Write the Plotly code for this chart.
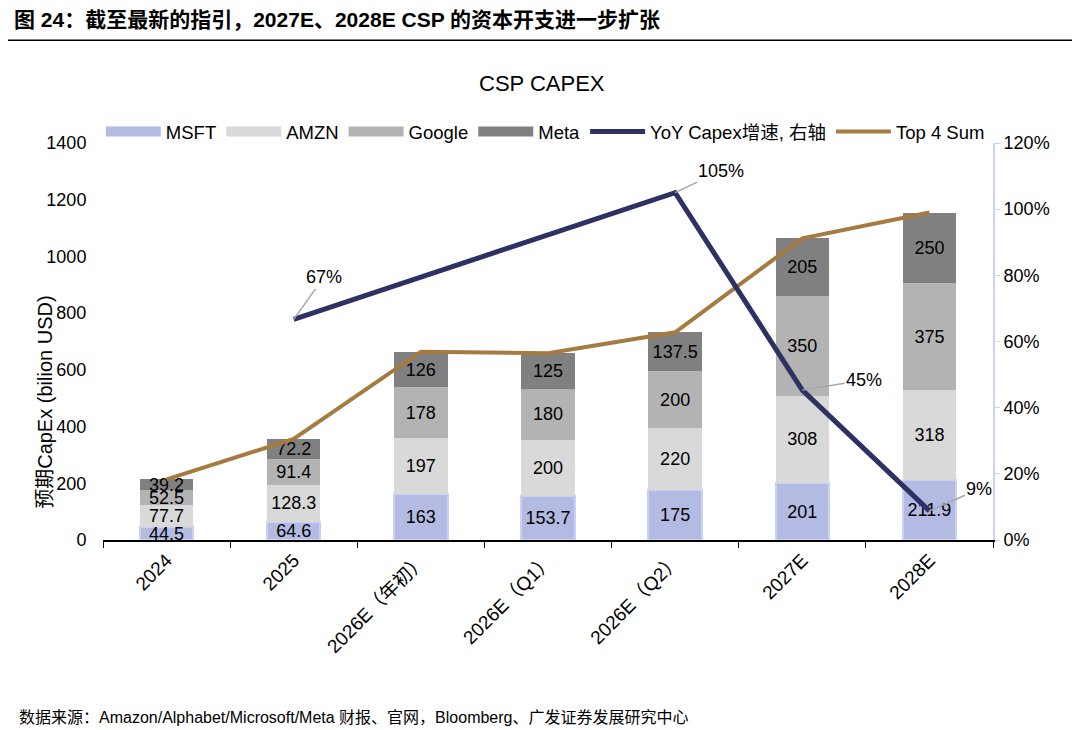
import numpy as np
import plotly.graph_objects as go

FONT = "Arial, Liberation Sans, Noto Sans CJK SC, sans-serif"

# Data.
periods = ["2024", "2025", "2026E（年初）", "2026E（Q1）", "2026E（Q2）", "2027E", "2028E"]
msft = [44.5, 64.6, 163, 153.7, 175, 201, 211.9]
amzn = [77.7, 128.3, 197, 200, 220, 308, 318]
google = [52.5, 91.4, 178, 180, 200, 350, 375]
meta = [39.2, 72.2, 126, 125, 137.5, 205, 250]
yoy = [None, 0.667, None, None, 1.05, 0.453, 0.088]
top4 = [float(v) for v in np.sum([msft, amzn, google, meta], axis=0)]

bar_series = [
    ("MSFT", msft, "#b4bbe3", "#cbd1f6", 2),
    ("AMZN", amzn, "#d9d9d9", "#d9d9d9", 0),
    ("Google", google, "#b3b3b3", "#b3b3b3", 0),
    ("Meta", meta, "#808080", "#808080", 0),
]

fig = go.Figure()
for name, vals, color, edge, lw in bar_series:
    fig.add_trace(go.Bar(
        x=periods, y=vals, name=name, legendgroup=name, showlegend=False,
        marker=dict(color=color, line=dict(color=edge, width=lw)),
        text=[f"{v:g}" for v in vals],
        textposition="inside", insidetextanchor="middle", textangle=0,
        textfont=dict(family=FONT, size=18, color="#000000"),
    ))
    # legend swatch drawn as a thick band like the original
    fig.add_trace(go.Scatter(
        x=[None], y=[None], name=name, legendgroup=name, mode="lines",
        line=dict(color=color, width=11),
    ))

fig.add_trace(go.Scatter(
    x=periods, y=yoy, name="YoY Capex增速, 右轴", yaxis="y2",
    mode="lines", connectgaps=True,
    line=dict(color="#2e3163", width=5),
))
fig.add_trace(go.Scatter(
    x=periods, y=top4, name="Top 4 Sum",
    mode="lines", line=dict(color="#a57b3f", width=4),
))

# YoY data labels with grey leader lines.
offsets = {1: (30, -42), 4: (46, -22), 5: (62, -10), 6: (50, -22)}
for i, (ax, ay) in offsets.items():
    fig.add_annotation(
        x=i, y=yoy[i], xref="x", yref="y2", text=f"{yoy[i]:.0%}",
        showarrow=True, arrowhead=0, arrowwidth=1.5, arrowcolor="#a6a6a6",
        ax=ax, ay=ay, font=dict(family=FONT, size=18, color="#000000"),
    )

fig.add_annotation(
    xref="paper", yref="paper", x=-0.102, y=1.3123, xanchor="left", yanchor="middle",
    text="<b>图 24：截至最新的指引，2027E、2028E CSP 的资本开支进一步扩张</b>",
    showarrow=False, font=dict(family=FONT, size=21, color="#000000"),
)
fig.add_annotation(
    xref="paper", yref="paper", x=0.493, y=1.15, xanchor="center", yanchor="middle",
    text="CSP CAPEX", showarrow=False,
    font=dict(family=FONT, size=22, color="#000000"),
)
fig.add_annotation(
    xref="paper", yref="paper", x=-0.0652, y=0.348, xanchor="center", yanchor="middle",
    text="预期CapEx (bilion USD)", textangle=-90, showarrow=False,
    font=dict(family=FONT, size=20, color="#000000"),
)
fig.add_annotation(
    xref="paper", yref="paper", x=-0.097, y=-0.448, xanchor="left", yanchor="middle",
    text="数据来源：Amazon/Alphabet/Microsoft/Meta 财报、官网，Bloomberg、广发证券发展研究中心",
    showarrow=False, font=dict(family=FONT, size=16, color="#000000"),
)
fig.add_shape(
    type="line", xref="paper", yref="paper", x0=-0.107, x1=1.1, y0=1.259, y1=1.259,
    line=dict(color="#000000", width=1.5),
)

fig.update_layout(
    width=1072, height=722,
    margin=dict(l=95, r=87, t=135, b=190),
    paper_bgcolor="white", plot_bgcolor="white",
    barmode="stack", bargap=0.58,
    font=dict(family=FONT, size=18, color="#000000"),
    uniformtext=dict(minsize=18, mode="show"),
    showlegend=True,
    legend=dict(
        orientation="h", x=0.497, xanchor="center", y=1.028, yanchor="middle",
        traceorder="normal", font=dict(family=FONT, size=18.5),
        itemwidth=55, bgcolor="rgba(0,0,0,0)",
    ),
    xaxis=dict(
        type="category", range=[-0.5, 6.5], tickangle=-45, tickson="boundaries",
        ticks="outside", ticklen=6, tickcolor="#000000",
        showline=True, linecolor="#000000", linewidth=1.5,
        showgrid=False, tickfont=dict(family=FONT, size=19),
    ),
    yaxis=dict(
        range=[0, 1400], dtick=200, showgrid=False, zeroline=False,
        showline=False, ticks="outside", ticklen=12, tickcolor="rgba(0,0,0,0)",
        tickfont=dict(family=FONT, size=18),
    ),
    yaxis2=dict(
        overlaying="y", side="right", range=[0, 1.2], dtick=0.2, tickformat=".0%",
        showgrid=False, zeroline=False, showline=True, linecolor="#ccd2f5", linewidth=2,
        ticks="outside", ticklen=5, tickcolor="#ccd2f5",
        tickfont=dict(family=FONT, size=18),
    ),
)

fig.write_html("out.html")
